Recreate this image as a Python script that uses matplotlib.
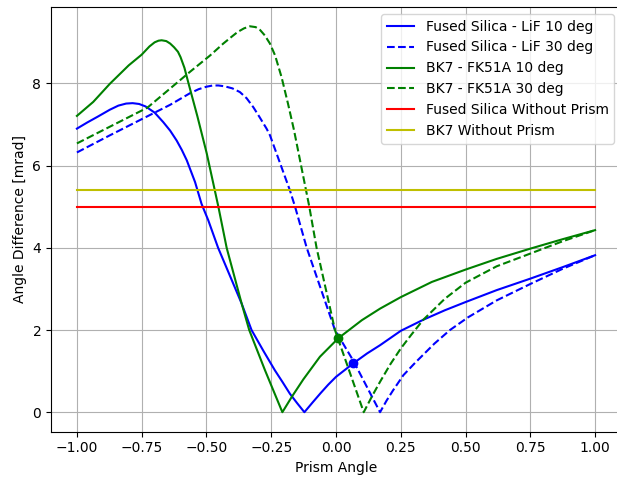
import matplotlib
matplotlib.use("Agg")
import matplotlib.pyplot as plt

# Fused Silica - LiF 10 deg
fs10_x = [-1.0, -0.96, -0.92, -0.873, -0.84, -0.81, -0.785, -0.76, -0.735, -0.70, -0.667,
          -0.64, -0.615, -0.595, -0.576, -0.544, -0.519, -0.493, -0.455, -0.40, -0.364,
          -0.326, -0.28, -0.236, -0.206, -0.178, -0.15, -0.122, -0.09, -0.06, -0.03,
          0.0, 0.067, 0.12, 0.17, 0.25, 0.337, 0.42, 0.5, 0.62, 0.75, 0.875, 1.0]
fs10_y = [6.90, 7.05, 7.19, 7.36, 7.46, 7.51, 7.52, 7.50, 7.44, 7.29, 7.06,
          6.85, 6.61, 6.38, 6.13, 5.60, 5.07, 4.67, 4.00, 3.18, 2.64,
          2.00, 1.49, 1.02, 0.73, 0.45, 0.22, 0.0, 0.24, 0.46, 0.67,
          0.86, 1.19, 1.43, 1.63, 1.98, 2.25, 2.48, 2.68, 2.97, 3.25, 3.53, 3.82]

# Fused Silica - LiF 30 deg
fs30_x = [-1.0, -0.875, -0.75, -0.64, -0.564, -0.53, -0.50, -0.475, -0.454, -0.43, -0.40,
          -0.371, -0.345, -0.319, -0.295, -0.268, -0.255, -0.178, -0.158, -0.113, -0.004,
          0.067, 0.17, 0.195, 0.22, 0.26, 0.305, 0.38, 0.44, 0.51, 0.62, 0.75, 0.875, 1.0]
fs30_y = [6.32, 6.73, 7.13, 7.48, 7.76, 7.86, 7.92, 7.95, 7.95, 7.93, 7.88,
          7.79, 7.64, 7.42, 7.18, 6.90, 6.74, 5.40, 5.00, 4.00, 2.00,
          1.25, 0.0, 0.28, 0.53, 0.90, 1.20, 1.67, 2.00, 2.31, 2.72, 3.12, 3.49, 3.82]

# BK7 - FK51A 10 deg
bk10_x = [-1.0, -0.937, -0.873, -0.80, -0.75, -0.72, -0.70, -0.685, -0.673, -0.655, -0.64,
          -0.625, -0.61, -0.60, -0.585, -0.57, -0.535, -0.499, -0.454, -0.422, -0.364,
          -0.335, -0.274, -0.207, -0.17, -0.126, -0.062, 0.009, 0.10, 0.17, 0.25,
          0.37, 0.50, 0.62, 0.75, 0.875, 1.0]
bk10_y = [7.21, 7.55, 7.99, 8.44, 8.70, 8.90, 9.00, 9.04, 9.05, 9.03, 8.97,
          8.88, 8.77, 8.64, 8.38, 8.02, 7.20, 6.30, 5.00, 4.00, 2.64,
          2.00, 1.02, 0.0, 0.38, 0.80, 1.35, 1.80, 2.24, 2.52, 2.80,
          3.17, 3.47, 3.73, 3.98, 4.21, 4.43]

# BK7 - FK51A 30 deg
bk30_x = [-1.0, -0.875, -0.728, -0.564, -0.486, -0.435, -0.40, -0.38, -0.355, -0.332, -0.31,
          -0.293, -0.275, -0.255, -0.235, -0.21, -0.185, -0.162, -0.103, -0.075, -0.004,
          0.107, 0.14, 0.17, 0.21, 0.25, 0.29, 0.337, 0.42, 0.5, 0.62, 0.75, 0.875, 1.0]
bk30_y = [6.54, 6.94, 7.41, 8.28, 8.68, 8.97, 9.15, 9.25, 9.34, 9.39, 9.37,
          9.30, 9.17, 8.97, 8.68, 8.15, 7.50, 6.86, 5.00, 4.00, 2.00,
          0.0, 0.40, 0.74, 1.17, 1.55, 1.88, 2.25, 2.76, 3.15, 3.55, 3.86, 4.16, 4.43]

# Without prism (constant levels)
flat_x = [-1.0, 1.0]
fs_noprism = [5.0, 5.0]
bk_noprism = [5.4, 5.4]

# Highlighted points
fs_point = (0.067, 1.19)
bk_point = (0.009, 1.80)

fig = plt.figure(figsize=(6.17, 4.8), dpi=100)
ax = fig.add_axes([51 / 617, 48.5 / 480, 570 / 617, 424.5 / 480])

ax.plot(fs10_x, fs10_y, 'b-', label='Fused Silica - LiF 10 deg')
ax.plot(fs30_x, fs30_y, 'b--', label='Fused Silica - LiF 30 deg')
ax.plot(bk10_x, bk10_y, 'g-', label='BK7 - FK51A 10 deg')
ax.plot(bk30_x, bk30_y, 'g--', label='BK7 - FK51A 30 deg')
ax.plot(flat_x, fs_noprism, 'r-', label='Fused Silica Without Prism')
ax.plot(flat_x, bk_noprism, 'y-', label='BK7 Without Prism')
ax.plot([bk_point[0]], [bk_point[1]], 'go')
ax.plot([fs_point[0]], [fs_point[1]], 'bo')

ax.set_xticks([-1.0, -0.75, -0.5, -0.25, 0.0, 0.25, 0.5, 0.75, 1.0])
ax.set_yticks([0, 2, 4, 6, 8])
ax.grid(True)
ax.set_xlabel('Prism Angle')
ax.set_ylabel('Angle Difference [mrad]')
ax.legend(loc='upper right')

fig.savefig('out.png', dpi=100)
